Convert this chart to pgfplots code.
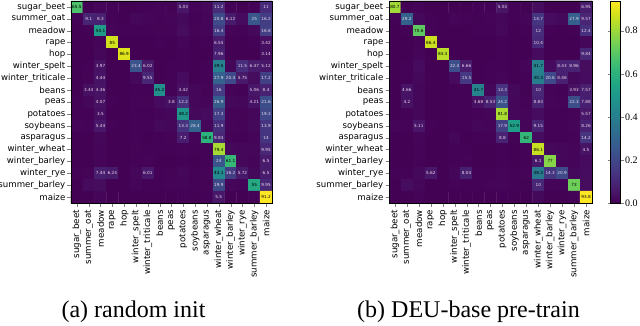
\documentclass[border=0pt]{standalone}
\usepackage{fontspec}
\setmainfont{DejaVu Sans}
\newfontfamily\capfont{Liberation Serif}
\usepackage{pgfplots}
\usepackage{pgfplotstable}
\pgfplotsset{compat=1.18}

% confusion matrices, rows = true class, columns = predicted class (percent)
\pgfplotstableread[row sep=\\]{
x y v\\
0 0 65.5\\ 1 0 0.3\\ 2 0 1.2\\ 3 0 0.5\\ 4 0 0.2\\ 5 0 0.3\\ 6 0 0.4\\ 7 0 0.8\\ 8 0 0.6\\ 9 0 5.03\\ 10 0 0.8\\ 11 0 1.5\\ 12 0 11.2\\ 13 0 0.5\\ 14 0 0.3\\ 15 0 0.4\\ 16 0 11.0\\
0 1 0.5\\ 1 1 9.1\\ 2 1 8.3\\ 3 1 0.5\\ 4 1 0.3\\ 5 1 1.5\\ 6 1 1.0\\ 7 1 0.8\\ 8 1 1.2\\ 9 1 2.0\\ 10 1 0.5\\ 11 1 1.0\\ 12 1 20.8\\ 13 1 6.12\\ 14 1 2.5\\ 15 1 25.0\\ 16 1 16.2\\
0 2 0.3\\ 1 2 0.5\\ 2 2 50.1\\ 3 2 0.8\\ 4 2 0.5\\ 5 2 0.5\\ 6 2 0.4\\ 7 2 0.6\\ 8 2 0.8\\ 9 2 2.9\\ 10 2 0.6\\ 11 2 0.9\\ 12 2 16.4\\ 13 2 0.8\\ 14 2 0.5\\ 15 2 2.0\\ 16 2 16.8\\
0 3 0.2\\ 1 3 0.2\\ 2 3 1.0\\ 3 3 85.0\\ 4 3 0.3\\ 5 3 0.3\\ 6 3 0.3\\ 7 3 0.4\\ 8 3 0.3\\ 9 3 1.0\\ 10 3 0.3\\ 11 3 0.5\\ 12 3 6.55\\ 13 3 0.3\\ 14 3 0.2\\ 15 3 0.4\\ 16 3 3.42\\
0 4 0.1\\ 1 4 0.2\\ 2 4 1.5\\ 3 4 0.2\\ 4 4 86.9\\ 5 4 0.3\\ 6 4 0.2\\ 7 4 0.2\\ 8 4 0.2\\ 9 4 0.5\\ 10 4 0.2\\ 11 4 0.3\\ 12 4 7.96\\ 13 4 0.2\\ 14 4 0.2\\ 15 4 0.3\\ 16 4 3.14\\
0 5 0.2\\ 1 5 0.5\\ 2 5 3.97\\ 3 5 0.3\\ 4 5 0.2\\ 5 5 23.4\\ 6 5 6.02\\ 7 5 0.3\\ 8 5 0.4\\ 9 5 0.5\\ 10 5 0.3\\ 11 5 0.4\\ 12 5 39.5\\ 13 5 1.5\\ 14 5 11.5\\ 15 5 6.47\\ 16 5 5.12\\
0 6 0.3\\ 1 6 0.6\\ 2 6 4.44\\ 3 6 0.3\\ 4 6 0.2\\ 5 6 2.0\\ 6 6 9.55\\ 7 6 0.3\\ 8 6 0.4\\ 9 6 2.5\\ 10 6 0.3\\ 11 6 0.5\\ 12 6 27.9\\ 13 6 20.4\\ 14 6 5.75\\ 15 6 2.8\\ 16 6 17.2\\
0 7 0.3\\ 1 7 3.44\\ 2 7 4.36\\ 3 7 0.3\\ 4 7 0.2\\ 5 7 0.5\\ 6 7 0.4\\ 7 7 45.2\\ 8 7 0.5\\ 9 7 3.42\\ 10 7 1.5\\ 11 7 0.6\\ 12 7 16.0\\ 13 7 0.8\\ 14 7 0.5\\ 15 7 5.06\\ 16 7 8.40\\
0 8 0.5\\ 1 8 1.5\\ 2 8 4.07\\ 3 8 0.4\\ 4 8 0.3\\ 5 8 0.8\\ 6 8 0.6\\ 7 8 2.5\\ 8 8 3.80\\ 9 8 12.2\\ 10 8 1.5\\ 11 8 1.0\\ 12 8 26.9\\ 13 8 2.0\\ 14 8 1.5\\ 15 8 4.21\\ 16 8 21.6\\
0 9 0.5\\ 1 9 0.5\\ 2 9 3.50\\ 3 9 0.3\\ 4 9 0.3\\ 5 9 0.4\\ 6 9 0.4\\ 7 9 1.0\\ 8 9 1.5\\ 9 9 48.2\\ 10 9 2.0\\ 11 9 2.5\\ 12 9 17.3\\ 13 9 0.8\\ 14 9 0.6\\ 15 9 1.5\\ 16 9 19.3\\
0 10 1.0\\ 1 10 0.8\\ 2 10 5.44\\ 3 10 0.4\\ 4 10 0.3\\ 5 10 0.5\\ 6 10 0.5\\ 7 10 2.0\\ 8 10 1.5\\ 9 10 13.3\\ 10 10 28.4\\ 11 10 1.5\\ 12 10 11.9\\ 13 10 1.0\\ 14 10 0.8\\ 15 10 2.0\\ 16 10 13.9\\
0 11 0.3\\ 1 11 0.3\\ 2 11 1.5\\ 3 11 0.3\\ 4 11 0.2\\ 5 11 0.4\\ 6 11 0.3\\ 7 11 0.5\\ 8 11 0.6\\ 9 11 7.20\\ 10 11 0.8\\ 11 11 58.8\\ 12 11 9.83\\ 13 11 0.5\\ 14 11 0.5\\ 15 11 1.0\\ 16 11 14.0\\
0 12 0.3\\ 1 12 0.3\\ 2 12 1.2\\ 3 12 0.3\\ 4 12 0.2\\ 5 12 0.6\\ 6 12 0.5\\ 7 12 0.4\\ 8 12 0.4\\ 9 12 0.8\\ 10 12 0.4\\ 11 12 0.5\\ 12 12 79.4\\ 13 12 2.0\\ 14 12 1.5\\ 15 12 1.5\\ 16 12 9.95\\
0 13 0.3\\ 1 13 0.3\\ 2 13 1.0\\ 3 13 0.2\\ 4 13 0.2\\ 5 13 0.5\\ 6 13 0.8\\ 7 13 0.3\\ 8 13 0.3\\ 9 13 0.5\\ 10 13 0.3\\ 11 13 0.4\\ 12 13 24.0\\ 13 13 61.1\\ 14 13 1.5\\ 15 13 1.0\\ 16 13 6.50\\
0 14 0.4\\ 1 14 0.6\\ 2 14 7.44\\ 3 14 6.24\\ 4 14 0.3\\ 5 14 1.5\\ 6 14 6.01\\ 7 14 0.4\\ 8 14 0.6\\ 9 14 1.5\\ 10 14 0.5\\ 11 14 0.8\\ 12 14 43.1\\ 13 14 16.2\\ 14 14 5.72\\ 15 14 2.0\\ 16 14 6.50\\
0 15 0.3\\ 1 15 2.5\\ 2 15 2.6\\ 3 15 0.3\\ 4 15 0.3\\ 5 15 1.0\\ 6 15 0.5\\ 7 15 0.5\\ 8 15 0.8\\ 9 15 1.0\\ 10 15 0.5\\ 11 15 0.6\\ 12 15 19.9\\ 13 15 1.5\\ 14 15 1.0\\ 15 15 55.0\\ 16 15 9.95\\
0 16 0.2\\ 1 16 0.2\\ 2 16 1.0\\ 3 16 0.2\\ 4 16 0.2\\ 5 16 0.3\\ 6 16 0.3\\ 7 16 0.3\\ 8 16 0.3\\ 9 16 0.5\\ 10 16 0.3\\ 11 16 0.4\\ 12 16 5.50\\ 13 16 0.3\\ 14 16 0.3\\ 15 16 0.5\\ 16 16 91.2\\
}\randinit

\pgfplotstableread[row sep=\\]{
x y v\\
0 0 80.7\\ 1 0 0.2\\ 2 0 0.8\\ 3 0 0.3\\ 4 0 0.2\\ 5 0 0.2\\ 6 0 0.2\\ 7 0 0.4\\ 8 0 0.5\\ 9 0 5.03\\ 10 0 0.4\\ 11 0 0.6\\ 12 0 2.9\\ 13 0 0.3\\ 14 0 0.2\\ 15 0 0.3\\ 16 0 6.95\\
0 1 0.5\\ 1 1 29.2\\ 2 1 2.0\\ 3 1 0.4\\ 4 1 0.3\\ 5 1 1.0\\ 6 1 0.8\\ 7 1 0.6\\ 8 1 0.8\\ 9 1 1.5\\ 10 1 0.5\\ 11 1 1.0\\ 12 1 14.7\\ 13 1 2.8\\ 14 1 2.0\\ 15 1 27.9\\ 16 1 9.57\\
0 2 0.2\\ 1 2 0.4\\ 2 2 70.6\\ 3 2 0.4\\ 4 2 0.3\\ 5 2 0.3\\ 6 2 0.2\\ 7 2 0.4\\ 8 2 0.4\\ 9 2 1.8\\ 10 2 0.3\\ 11 2 0.5\\ 12 2 12.0\\ 13 2 0.4\\ 14 2 0.3\\ 15 2 0.6\\ 16 2 12.4\\
0 3 0.2\\ 1 3 0.2\\ 2 3 0.8\\ 3 3 86.4\\ 4 3 0.3\\ 5 3 0.2\\ 6 3 0.2\\ 7 3 0.2\\ 8 3 0.2\\ 9 3 0.5\\ 10 3 0.2\\ 11 3 0.3\\ 12 3 10.4\\ 13 3 0.2\\ 14 3 0.2\\ 15 3 0.3\\ 16 3 1.5\\
0 4 0.2\\ 1 4 0.2\\ 2 4 1.0\\ 3 4 0.3\\ 4 4 84.3\\ 5 4 0.3\\ 6 4 0.2\\ 7 4 0.3\\ 8 4 0.3\\ 9 4 0.5\\ 10 4 0.2\\ 11 4 0.3\\ 12 4 2.5\\ 13 4 0.2\\ 14 4 0.2\\ 15 4 0.3\\ 16 4 9.84\\
0 5 0.2\\ 1 5 0.4\\ 2 5 2.5\\ 3 5 0.3\\ 4 5 0.2\\ 5 5 22.4\\ 6 5 6.66\\ 7 5 0.3\\ 8 5 0.4\\ 9 5 0.5\\ 10 5 0.3\\ 11 5 1.0\\ 12 5 41.7\\ 13 5 2.5\\ 14 5 8.43\\ 15 5 8.96\\ 16 5 2.9\\
0 6 0.3\\ 1 6 0.5\\ 2 6 2.0\\ 3 6 0.3\\ 4 6 0.2\\ 5 6 2.5\\ 6 6 15.5\\ 7 6 0.3\\ 8 6 0.4\\ 9 6 1.0\\ 10 6 0.3\\ 11 6 0.5\\ 12 6 40.3\\ 13 6 20.6\\ 14 6 8.46\\ 15 6 2.0\\ 16 6 2.8\\
0 7 0.3\\ 1 7 4.66\\ 2 7 1.5\\ 3 7 0.3\\ 4 7 0.2\\ 5 7 0.5\\ 6 7 0.4\\ 7 7 41.7\\ 8 7 1.5\\ 9 7 13.3\\ 10 7 2.0\\ 11 7 0.6\\ 12 7 10.0\\ 13 7 0.8\\ 14 7 0.5\\ 15 7 3.93\\ 16 7 7.57\\
0 8 0.3\\ 1 8 4.20\\ 2 8 1.5\\ 3 8 0.3\\ 4 8 0.3\\ 5 8 0.5\\ 6 8 0.5\\ 7 8 3.68\\ 8 8 8.53\\ 9 8 24.2\\ 10 8 1.5\\ 11 8 0.8\\ 12 8 8.83\\ 13 8 1.0\\ 14 8 0.8\\ 15 8 22.3\\ 16 8 7.88\\
0 9 0.3\\ 1 9 0.5\\ 2 9 1.5\\ 3 9 0.3\\ 4 9 0.3\\ 5 9 0.4\\ 6 9 0.4\\ 7 9 0.8\\ 8 9 1.0\\ 9 9 81.8\\ 10 9 1.5\\ 11 9 1.0\\ 12 9 2.8\\ 13 9 0.5\\ 14 9 0.4\\ 15 9 0.8\\ 16 9 5.57\\
0 10 1.0\\ 1 10 0.8\\ 2 10 5.11\\ 3 10 0.4\\ 4 10 0.3\\ 5 10 0.5\\ 6 10 0.4\\ 7 10 1.5\\ 8 10 1.0\\ 9 10 17.9\\ 10 10 52.9\\ 11 10 1.0\\ 12 10 9.15\\ 13 10 0.5\\ 14 10 0.5\\ 15 10 1.0\\ 16 10 8.26\\
0 11 0.3\\ 1 11 0.3\\ 2 11 1.0\\ 3 11 0.3\\ 4 11 0.2\\ 5 11 1.5\\ 6 11 0.3\\ 7 11 0.4\\ 8 11 0.5\\ 9 11 8.80\\ 10 11 0.6\\ 11 11 62.0\\ 12 11 2.8\\ 13 11 0.4\\ 14 11 0.4\\ 15 11 0.8\\ 16 11 14.2\\
0 12 0.2\\ 1 12 0.3\\ 2 12 0.8\\ 3 12 0.2\\ 4 12 0.2\\ 5 12 0.5\\ 6 12 0.4\\ 7 12 0.3\\ 8 12 0.3\\ 9 12 0.5\\ 10 12 0.3\\ 11 12 0.4\\ 12 12 86.1\\ 13 12 2.0\\ 14 12 1.5\\ 15 12 1.0\\ 16 12 4.50\\
0 13 0.2\\ 1 13 0.3\\ 2 13 0.8\\ 3 13 0.2\\ 4 13 0.2\\ 5 13 0.5\\ 6 13 0.8\\ 7 13 0.3\\ 8 13 0.3\\ 9 13 0.5\\ 10 13 0.3\\ 11 13 0.4\\ 12 13 6.10\\ 13 13 77.0\\ 14 13 1.5\\ 15 13 1.0\\ 16 13 2.5\\
0 14 0.4\\ 1 14 0.5\\ 2 14 2.0\\ 3 14 5.62\\ 4 14 0.3\\ 5 14 1.5\\ 6 14 8.04\\ 7 14 0.4\\ 8 14 0.5\\ 9 14 1.0\\ 10 14 0.4\\ 11 14 0.8\\ 12 14 38.3\\ 13 14 14.3\\ 14 14 20.9\\ 15 14 2.0\\ 16 14 2.8\\
0 15 0.3\\ 1 15 2.8\\ 2 15 1.5\\ 3 15 0.3\\ 4 15 0.3\\ 5 15 0.8\\ 6 15 0.4\\ 7 15 0.5\\ 8 15 0.8\\ 9 15 1.0\\ 10 15 0.5\\ 11 15 0.6\\ 12 15 10.0\\ 13 15 1.0\\ 14 15 1.0\\ 15 15 73.0\\ 16 15 2.9\\
0 16 0.2\\ 1 16 0.2\\ 2 16 0.8\\ 3 16 0.2\\ 4 16 0.2\\ 5 16 0.3\\ 6 16 0.3\\ 7 16 0.3\\ 8 16 0.3\\ 9 16 0.5\\ 10 16 0.3\\ 11 16 0.3\\ 12 16 2.0\\ 13 16 0.2\\ 14 16 0.2\\ 15 16 0.5\\ 16 16 93.8\\
}\pretrain

\def\classes{sugar\_beet,summer\_oat,meadow,rape,hop,winter\_spelt,winter\_triticale,beans,peas,potatoes,soybeans,asparagus,winter\_wheat,winter\_barley,winter\_rye,summer\_barley,maize}

\pgfplotsset{
  cm/.style={
    scale only axis, height=202pt, anchor=south west,
    y dir=reverse, enlargelimits=false, axis on top,
    xmin=-0.5, xmax=16.5, ymin=-0.5, ymax=16.5,
    xtick={0,...,16}, ytick={0,...,16},
    xticklabels/.expand once=\classes, yticklabels/.expand once=\classes,
    xticklabel style={rotate=90, anchor=east, font=\fontsize{8.7}{9}\selectfont},
    yticklabel style={font=\fontsize{8.6}{9}\selectfont, inner sep=2pt},
    tick align=outside, xtick pos=bottom, ytick pos=left, major tick length=3.5pt,
    axis line style={line width=0.6pt},
    colormap/viridis, point meta min=0,
  },
}

% numbers written in the cells, from the same table
\newcommand\celltext[1]{%
  \addplot[draw=none, mark=none, point meta=explicit,
    nodes near coords={\pgfmathprintnumber[precision=2, assume math mode=true]{\pgfplotspointmeta}},
    nodes near coords style={anchor=center, inner sep=0pt, text=white!85!violet, font=\fontsize{4.2}{4.2}\selectfont},
    restrict expr to domain={\thisrow{v}}{3:35}] table[x=x, y=y, meta=v] {#1};
  \addplot[draw=none, mark=none, point meta=explicit,
    nodes near coords={\pgfmathprintnumber[precision=2, assume math mode=true]{\pgfplotspointmeta}},
    nodes near coords style={anchor=center, inner sep=0pt, text=black, font=\fontsize{4.2}{4.2}\selectfont},
    restrict expr to domain={\thisrow{v}}{35:100}] table[x=x, y=y, meta=v] {#1};
}

\begin{document}
\begin{tikzpicture}
\useasboundingbox (0,0) rectangle (640pt,326pt);

\begin{axis}[cm, at={(71pt,123pt)}, width=201pt, point meta max=91.2]
\addplot[matrix plot*, mesh/cols=17, point meta=explicit] table[x=x, y=y, meta=v] {\randinit};
\celltext{\randinit}
\end{axis}

\begin{axis}[cm, at={(389pt,123pt)}, width=203pt, point meta max=93.8,
  colorbar,
  colorbar style={at={(parent axis.north east)}, anchor=north west, xshift=10pt,
    width=10pt, ytick={0,20,40,60,80}, yticklabels={0.0,0.2,0.4,0.6,0.8},
    yticklabel style={font=\capfont\fontsize{10}{10}\selectfont, inner sep=1.5pt},
    major tick length=3pt, tick align=outside, axis line style={line width=0.5pt}}]
\addplot[matrix plot*, mesh/cols=17, point meta=explicit] table[x=x, y=y, meta=v] {\pretrain};
\celltext{\pretrain}
\end{axis}

\node[anchor=base, font=\capfont\fontsize{24}{24}\selectfont] at (133.5pt,8pt) {(a) random init};
\node[anchor=base, font=\capfont\fontsize{24}{24}\selectfont] at (468.5pt,8pt) {(b) DEU-base pre-train};
\end{tikzpicture}
\end{document}
